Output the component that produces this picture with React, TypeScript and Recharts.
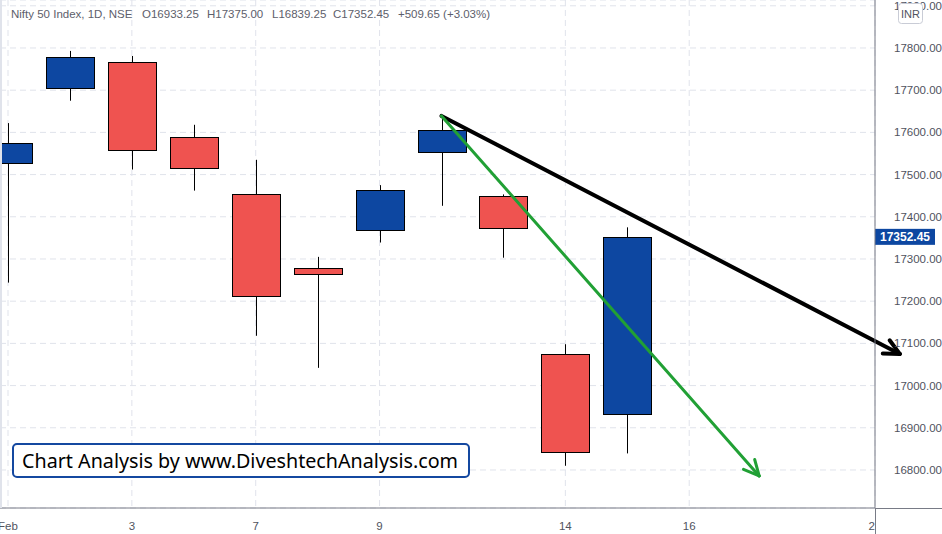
import React from 'react';
import { ComposedChart, Bar, XAxis, YAxis, CartesianGrid, ReferenceLine } from 'recharts';

// ---- data ----
const dayIndex = [0, 1, 2, 3, 4, 5, 6, 7, 8, 9, 10];
const dayNames = ['Feb 1', 'Feb 2', 'Feb 3', 'Feb 4', 'Feb 7', 'Feb 8', 'Feb 9', 'Feb 10', 'Feb 11', 'Feb 14', 'Feb 15'];
const opens = [17527, 17705, 17766, 17588, 17453, 17278, 17368, 17553, 17449, 17074, 16933.25];
const highs = [17622, 17793, 17781, 17618, 17535, 17305, 17475, 17639, 17453, 17098, 17375.0];
const lows = [17244, 17675, 17512, 17462, 17118, 17042, 17339, 17426, 17303, 16810, 16839.25];
const closes = [17574, 17778, 17558, 17515, 17212, 17264, 17463, 17605, 17373, 16842, 17352.45];

const xTickIndex = [0, 2, 4, 6, 9, 11, 14];
const xTickLabels = ['Feb', '3', '7', '9', '14', '16', '21'];
const yTicks = [16800, 16900, 17000, 17100, 17200, 17300, 17400, 17500, 17600, 17700, 17800, 17900];
const lastClose = 17352.45;

const blackArrow = [{ x: 7, y: 17639 }, { x: 14.4, y: 17075 }];
const greenArrow = [{ x: 7, y: 17639 }, { x: 12.13, y: 16786 }];

const data = dayIndex.map((i, k) => ({
  i,
  name: dayNames[k],
  o: opens[k],
  h: highs[k],
  l: lows[k],
  c: closes[k],
  range: [lows[k], highs[k]],
}));

const BLUE = '#0d47a1';
const RED = '#ef5350';
const AXIS = '#787b86';
const GRID = '#e0e3eb';
const TXT = '#50535e';
const FONT = '"Liberation Sans", Arial, sans-serif';

function Candle(props: any) {
  const { x, y, width, height } = props;
  const p = props.payload || props;
  const { o, h, l, c } = p;
  const top0 = height < 0 ? y + height : y;
  const hh = Math.abs(height);
  const ratio = hh / (h - l);
  const bTop = top0 + (h - Math.max(o, c)) * ratio;
  const bBot = top0 + (h - Math.min(o, c)) * ratio;
  const cx = Math.round(x + width / 2) + 0.5;
  return (
    <g>
      <line x1={cx} x2={cx} y1={top0} y2={top0 + hh} stroke="#000" strokeWidth={1} />
      <rect
        x={Math.round(x) + 0.5}
        y={Math.round(bTop) + 0.5}
        width={Math.round(width)}
        height={Math.max(Math.round(bBot - bTop), 2)}
        fill={c >= o ? BLUE : RED}
        stroke="#000"
        strokeWidth={1}
      />
    </g>
  );
}

function makeArrow(color: string, w: number) {
  return (props: any) => {
    const { x1, y1, x2, y2 } = props;
    const ang = Math.atan2(y2 - y1, x2 - x1);
    const len = 17;
    const spread = (26 * Math.PI) / 180;
    const ax1 = x2 - len * Math.cos(ang - spread);
    const ay1 = y2 - len * Math.sin(ang - spread);
    const ax2 = x2 - len * Math.cos(ang + spread);
    const ay2 = y2 - len * Math.sin(ang + spread);
    return (
      <g>
        <line x1={x1} y1={y1} x2={x2} y2={y2} stroke={color} strokeWidth={w} strokeLinecap="round" />
        <line x1={ax1} y1={ay1} x2={x2} y2={y2} stroke={color} strokeWidth={w} strokeLinecap="round" />
        <line x1={ax2} y1={ay2} x2={x2} y2={y2} stroke={color} strokeWidth={w} strokeLinecap="round" />
      </g>
    );
  };
}

function XTick(props: any) {
  const { x, y, payload } = props;
  const idx = xTickIndex.indexOf(payload.value);
  const label = idx >= 0 ? xTickLabels[idx] : '';
  return (
    <g>
      <defs>
        <clipPath id={'xclip' + payload.value}>
          <rect x={0} y={490} width={875} height={44} />
        </clipPath>
      </defs>
      <text
        x={x}
        y={y + 14}
        textAnchor="middle"
        fontSize={11.5}
        fontFamily={FONT}
        fill={TXT}
        clipPath={`url(#xclip${payload.value})`}
      >
        {label}
      </text>
    </g>
  );
}

function YTick(props: any) {
  const { x, y, payload } = props;
  return (
    <text x={x + 11} y={y + 4} textAnchor="start" fontSize={11.5} fontFamily={FONT} fill={TXT}>
      {Number(payload.value).toFixed(2)}
    </text>
  );
}

function PriceTag(props: any) {
  const vb = props.viewBox || {};
  const px = vb.x + vb.width;
  const py = vb.y;
  return (
    <g>
      <rect x={px} y={py - 8} width={60} height={16} fill={BLUE} />
      <text x={px + 30} y={py + 4.5} textAnchor="middle" fontSize={12} fontWeight="bold" fontFamily={FONT} fill="#fff">
        {lastClose.toFixed(2)}
      </text>
    </g>
  );
}

const headerParts = [
  { x: 11, t: 'Nifty 50 Index, 1D, NSE' },
  { x: 142, t: 'O' + opens[10].toFixed(2) },
  { x: 207, t: 'H' + highs[10].toFixed(2) },
  { x: 272, t: 'L' + lows[10].toFixed(2) },
  { x: 333, t: 'C' + closes[10].toFixed(2) },
  { x: 398, t: '+509.65 (+3.03%)' },
];

export default function App() {
  return (
    <div style={{ position: 'absolute', left: 0, top: 0, width: 942, height: 534, background: '#fff', overflow: 'hidden' }}>
      <ComposedChart width={942} height={534} data={data} margin={{ top: 0, right: 0, left: 0, bottom: 0 }}>
        <CartesianGrid stroke={GRID} strokeDasharray="6 4" />
        <XAxis
          type="number"
          dataKey="i"
          domain={[-0.1292, 14]}
          ticks={xTickIndex}
          allowDataOverflow
          height={26}
          axisLine={{ stroke: AXIS, strokeWidth: 1 }}
          tickLine={false}
          tick={<XTick />}
          interval={0}
        />
        <YAxis
          orientation="right"
          type="number"
          domain={[16709.9, 17913.7]}
          ticks={yTicks}
          allowDataOverflow
          width={67}
          axisLine={{ stroke: AXIS, strokeWidth: 1 }}
          tickLine={false}
          tick={<YTick />}
          interval={0}
        />
        <Bar dataKey="range" barSize={48} shape={<Candle />} isAnimationActive={false} />
        <ReferenceLine y={lastClose} stroke="none" ifOverflow="visible" label={<PriceTag />} />
        <ReferenceLine segment={blackArrow} ifOverflow="visible" stroke="#000" shape={makeArrow('#000000', 4)} />
        <ReferenceLine segment={greenArrow} ifOverflow="visible" stroke="#21a035" shape={makeArrow('#21a035', 3)} />
      </ComposedChart>
      <svg
        width={942}
        height={534}
        style={{ position: 'absolute', left: 0, top: 0, pointerEvents: 'none' }}
      >
        <line x1={875.5} y1={508} x2={875.5} y2={534} stroke={AXIS} strokeWidth={1} />
        <line x1={875} y1={508.5} x2={942} y2={508.5} stroke={AXIS} strokeWidth={1} />
        <line x1={1} y1={0} x2={1} y2={508} stroke={GRID} strokeWidth={2} />
        {headerParts.map((p, k) => (
          <text key={k} x={p.x} y={18} fontSize={11.5} fontFamily={FONT} fill="#5d606b">
            {p.t}
          </text>
        ))}
        <rect x={898.5} y={3.5} width={24} height={20} rx={3} fill="#fff" stroke="#c9ccd6" strokeWidth={1} />
        <text x={910.5} y={17.5} textAnchor="middle" fontSize={11} fontFamily={FONT} fill={TXT}>
          INR
        </text>
        <rect x={13} y={444} width={456} height={33} rx={4} fill="#fff" stroke="#1448a0" strokeWidth={2} />
        <text
          x={22}
          y={468}
          fontSize={20}
          fontFamily='"Noto Sans", "Open Sans", sans-serif'
          fill="#000"
          textLength={436}
          lengthAdjust="spacingAndGlyphs"
        >
          Chart Analysis by www.DiveshtechAnalysis.com
        </text>
      </svg>
    </div>
  );
}
